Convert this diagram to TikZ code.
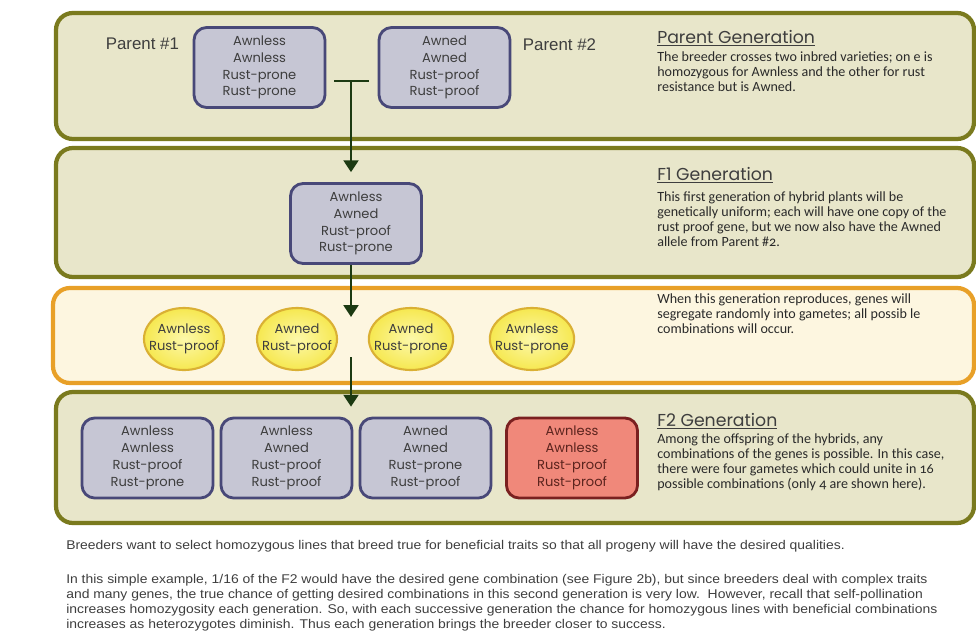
\documentclass[tikz,border=0pt]{standalone}
\usepackage{fontspec}
\setmainfont{Liberation Sans}
\newfontfamily\gothic{Poppins}
\newfontfamily\notefont[Numbers=OldStyle]{Carlito}
\newfontfamily\plainfont[FakeStretch=1.1]{Liberation Sans}
\usetikzlibrary{arrows.meta,shapes.geometric}

\definecolor{olivedark}{RGB}{122,122,30}
\definecolor{panelfill}{RGB}{232,230,202}
\definecolor{orangeedge}{RGB}{232,160,40}
\definecolor{orangefill}{RGB}{253,246,224}
\definecolor{boxfill}{RGB}{198,198,212}
\definecolor{boxedge}{RGB}{72,72,120}
\definecolor{redfill}{RGB}{240,136,122}
\definecolor{rededge}{RGB}{122,32,32}
\definecolor{redtext}{RGB}{92,36,30}
\definecolor{gamfill}{RGB}{246,232,80}
\definecolor{gamcore}{RGB}{252,248,170}
\definecolor{gamedge}{RGB}{218,176,52}
\definecolor{arrowgreen}{RGB}{28,58,18}
\definecolor{textgray}{RGB}{62,62,62}
\definecolor{notegray}{RGB}{42,42,42}

\tikzset{
every gene/.style={font=\gothic\fontsize{9.3}{12}\selectfont},
}

\begin{document}
\begin{tikzpicture}[x=0.025cm, y=-0.025cm,
            panel/.style={draw=olivedark, line width=3pt, fill=panelfill, rounded corners=12pt},
            gampanel/.style={draw=orangeedge, line width=3pt, fill=orangefill, rounded corners=12pt},
            genebox/.style={every gene, draw=boxedge, line width=2pt, fill=boxfill, rounded corners=9pt,
                            minimum width=3.275cm, minimum height=2cm, align=center, text=textgray, inner sep=0pt},
            bestbox/.style={genebox, draw=rededge, fill=redfill, text=redtext},
            gamete/.style={every gene, ellipse, draw=gamedge, line width=1.5pt, inner color=gamcore, outer color=gamfill,
                           minimum width=2cm, minimum height=1.55cm, inner xsep=-5pt, inner ysep=0pt, align=center, text=textgray},
            plabel/.style={font=\fontsize{12}{14}\selectfont, text=textgray},
            gentitle/.style={anchor=west, font=\gothic\fontsize{12.3}{14}\selectfont, text=textgray, inner sep=0pt},
            gennote/.style={anchor=north west, align=left, font=\notefont\fontsize{10}{10.7}\selectfont, text=notegray, inner sep=0pt},
            bottomtext/.style={anchor=north west, align=left, font=\plainfont\fontsize{9}{10.7}\selectfont, text=textgray, inner sep=0pt},
            crossbar/.style={draw=arrowgreen, line width=2pt},
            flow/.style={crossbar, -{Triangle[width=10.5pt,length=8.5pt]}},
            ]
  \useasboundingbox (0,0) rectangle (976,639);
  % generation panels
  \draw[panel] (56,13) rectangle (974,139);
  \draw[panel] (56,148) rectangle (974,277);
  \draw[gampanel] (53,288) rectangle (974,383);
  \draw[panel] (56,392) rectangle (974,523);

  % parent generation
  \node[genebox] (p1) at (259.5,67.5) {Awnless\\Awnless\\Rust-prone\\Rust-prone};
  \node[genebox] (p2) at (444.5,67.5) {Awned\\Awned\\Rust-proof\\Rust-proof};
  \node[plabel, anchor=east] (lab1) at (184,44) {Parent \#1};
  \node[plabel, anchor=west] (lab2) at (518,45) {Parent \#2};
  \node[gentitle] (t1) at (657,38) {\underline{Parent Generation}};
  \node[gennote] (n1) at (657,51) {The breeder crosses two inbred varieties; on e is\\homozygous for Awnless and the other for rust\\resistance but is Awned.};

  % F1 generation
  \node[genebox] (f1) at (356,223.5) {Awnless\\Awned\\Rust-proof\\Rust-prone};
  \node[gentitle] (t2) at (657,175) {\underline{F1 Generation}};
  \node[gennote] (n2) at (657,191) {This first generation of hybrid plants will be\\genetically uniform; each will have one copy of the\\rust proof gene, but we now also have the Awned\\allele from Parent \#2.};

  % gametes
  \node[gamete] (g1) at (184,339) {Awnless\\Rust-proof};
  \node[gamete] (g2) at (297,339) {Awned\\Rust-proof};
  \node[gamete] (g3) at (411,339) {Awned\\Rust-prone};
  \node[gamete] (g4) at (532,339) {Awnless\\Rust-prone};
  \node[gennote] (n3) at (657,293) {When this generation reproduces, genes will\\segregate randomly into gametes; all possib le\\combinations will occur.};

  % F2 generation
  \node[genebox] (c1) at (147.5,458) {Awnless\\Awnless\\Rust-proof\\Rust-prone};
  \node[genebox] (c2) at (286.5,458) {Awnless\\Awned\\Rust-proof\\Rust-proof};
  \node[genebox] (c3) at (425.5,458) {Awned\\Awned\\Rust-prone\\Rust-proof};
  \node[bestbox] (c4) at (572,458) {Awnless\\Awnless\\Rust-proof\\Rust-proof};
  \node[gentitle] (t4) at (657,421) {\underline{F2 Generation}};
  \node[gennote] (n4) at (657,433) {Among the offspring of the hybrids, any\\combinations of the genes is possible. In this case,\\there were four gametes which could unite in 16\\possible combinations (only 4 are shown here).};

  % crossing lines
  \coordinate (cross) at (351,81);
  \coordinate (gapA) at (351,317);
  \coordinate (gapB) at (351,357);
  \draw[crossbar, shorten <=5.7pt, shorten >=6.4pt] (p1.east |- cross) -- (p2.west |- cross);
  \draw[flow, shorten >=7pt] (cross) -- (cross |- f1.north);
  \draw[flow] (cross |- f1.south) -- (gapA);
  \draw[flow, shorten >=7pt] (gapB) -- (gapB |- c2.north);

  % notes below
  \node[bottomtext] (b1) at (66,540) {Breeders want to select homozygous lines that breed true for beneficial traits so that all progeny will have the desired qualities.};
  \node[bottomtext] (b2) at (66,574) {In this simple example, 1/16 of the F2 would have the desired gene combination (see Figure 2b), but since breeders deal with complex traits\\and many genes, the true chance of getting desired combinations in this second generation is very low.\ \ However, recall that self-pollination\\increases homozygosity each generation. So, with each successive generation the chance for homozygous lines with beneficial combinations\\increases as heterozygotes diminish. Thus each generation brings the breeder closer to success.};
\end{tikzpicture}
\end{document}
